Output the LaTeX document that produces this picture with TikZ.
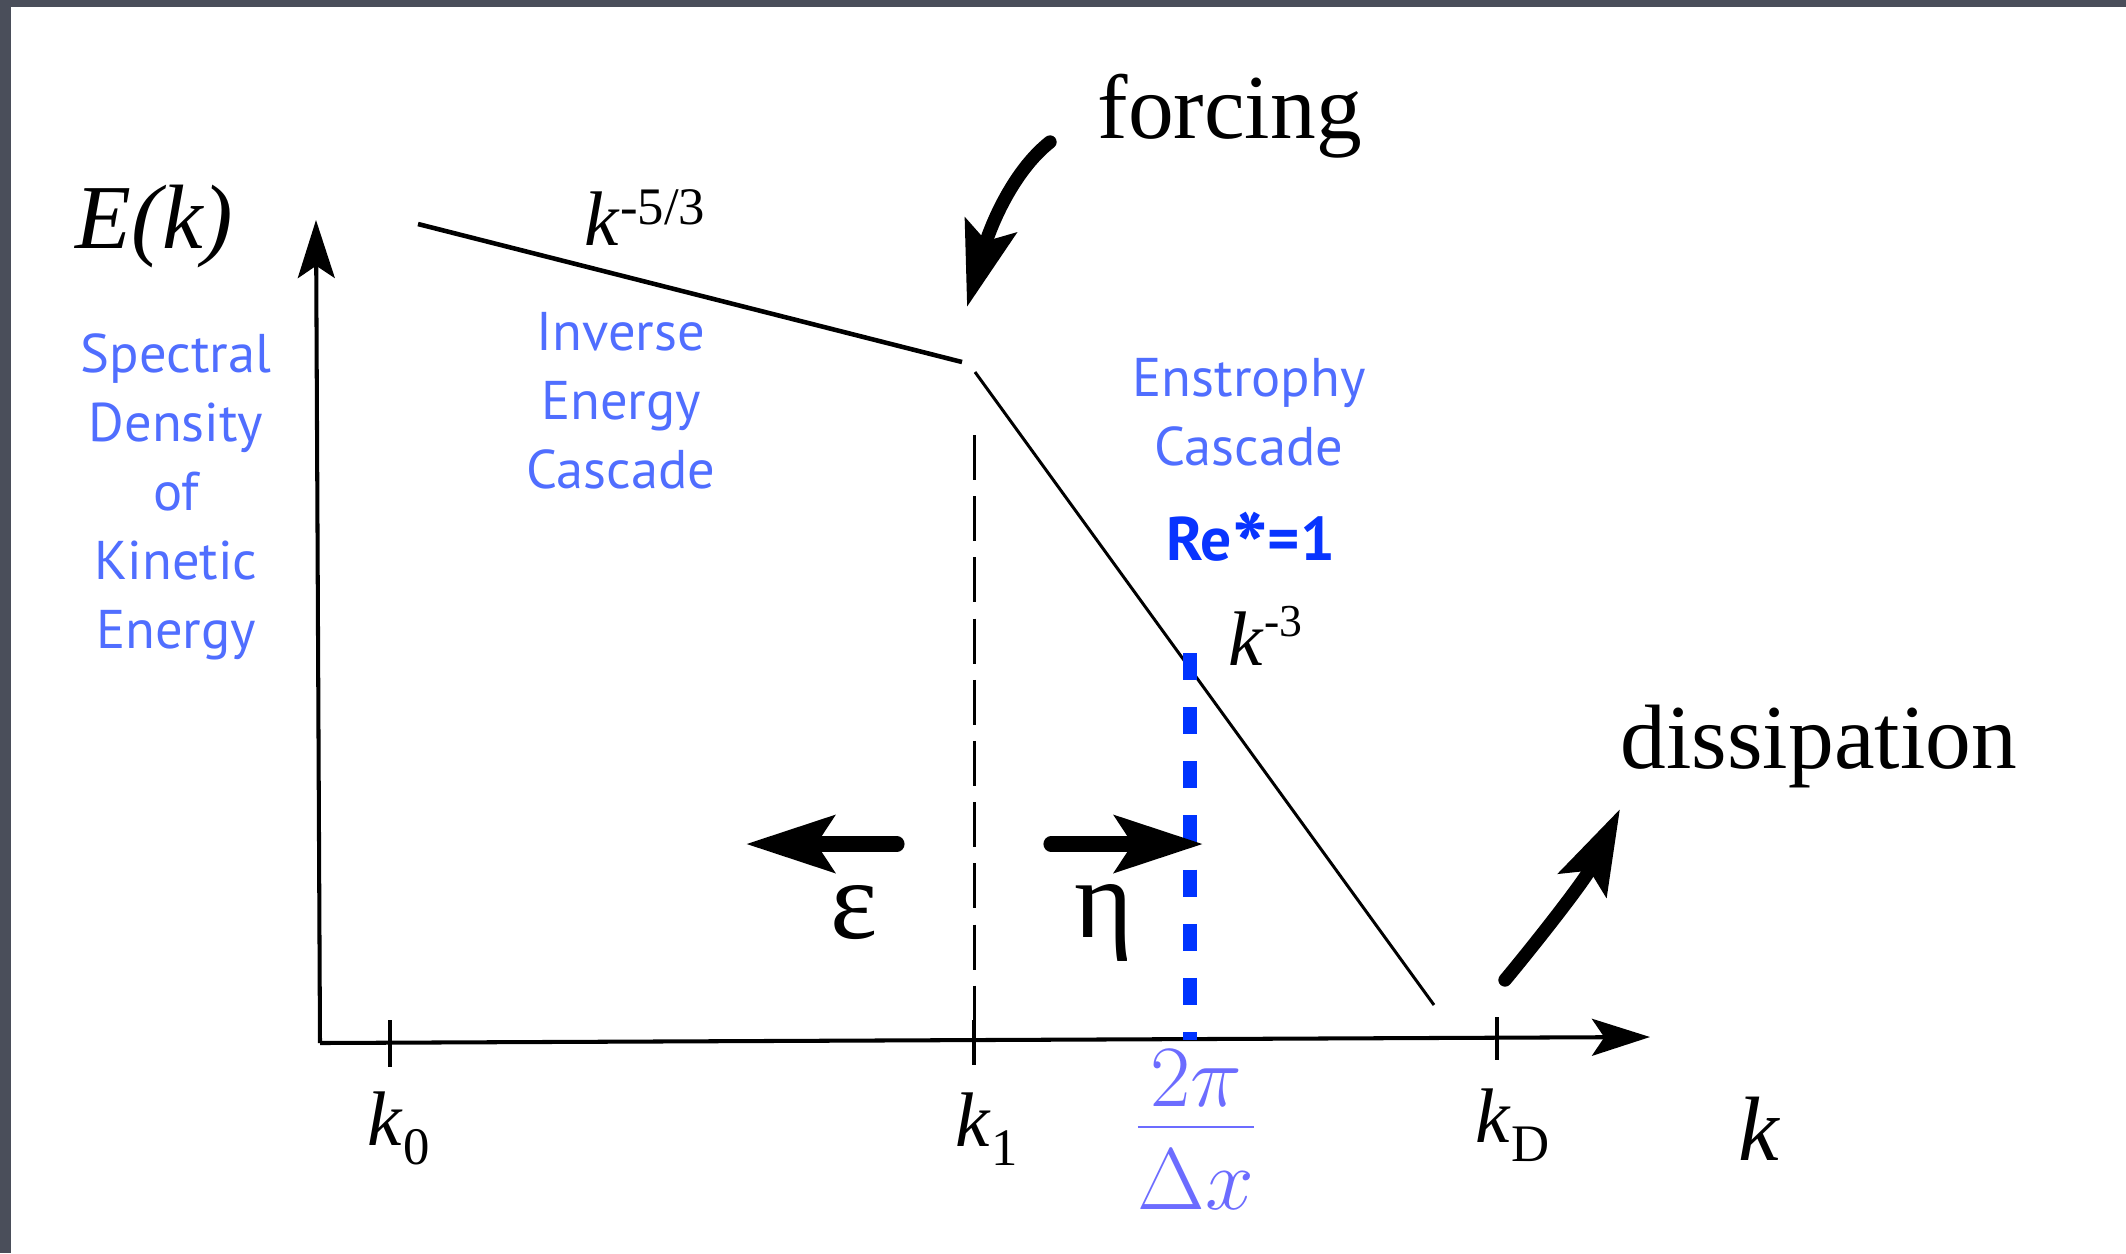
\documentclass[tikz,border=0pt]{standalone}
\usepackage[no-math]{fontspec}
\setmainfont{Liberation Serif}
\newfontfamily\chalk{PT Sans}
\usetikzlibrary{arrows.meta}
\definecolor{framegray}{RGB}{74,78,90}
\definecolor{labelblue}{RGB}{80,110,255}
\definecolor{reblue}{RGB}{8,52,255}
\definecolor{fracblue}{RGB}{108,108,255}
\definecolor{dashblue}{RGB}{0,52,255}
\tikzset{
  axisline/.style={line width=1.15pt, -{Stealth[length=16.5pt,width=10.5pt,inset=3.5pt]}},
  tickline/.style={line width=1.1pt},
  slopeA/.style={line width=1.3pt},
  slopeB/.style={line width=0.85pt},
  kdash/.style={line width=0.85pt, dash pattern=on 12.8pt off 4.6pt},
  bluedash/.style={line width=4pt, dashblue, dash pattern=on 7.7pt off 7.7pt},
  fatarrow/.style={line width=4.3pt, line cap=round, -{Stealth[length=25pt,width=16pt,inset=5pt]}},
  curvearrow/.style={line width=3.8pt, line cap=round, -{Stealth[length=24pt,width=15pt,inset=4.5pt]}},
  bigserif/.style={inner sep=0pt, anchor=base west, font=\fontsize{26}{30}\selectfont},
  ticklabel/.style={inner sep=0pt, anchor=base west, font=\fontsize{22}{26}\selectfont},
  greek/.style={inner sep=0pt, anchor=base, font=\fontsize{32}{36}\selectfont},
  bluelabel/.style={inner sep=0pt, align=center, text=labelblue, font=\chalk\fontsize{15.5}{19.6}\selectfont},
  relabel/.style={inner sep=0pt, anchor=base, text=reblue, font=\chalk\bfseries\fontsize{17.5}{20}\selectfont},
}
\newcommand{\supk}[3]{\textit{k}\raisebox{#1}{\fontsize{#2}{#2}\selectfont #3}}
\newcommand{\subk}[1]{\textit{k}\raisebox{-5.5pt}{\fontsize{15}{15}\selectfont #1}}
\begin{document}
\begin{tikzpicture}[x=0.01cm,y=-0.01cm]
\useasboundingbox (0,0) rectangle (2126,1253);
\fill[white] (0,0) rectangle (2126,1253);
\fill[framegray] (0,0) rectangle (2126,7);
\fill[framegray] (0,0) rectangle (11,1253);

% axes
\coordinate (O) at (320,1043);
\coordinate (ytip) at (316,220);
\coordinate (xtip) at (1650,1037);
\draw[axisline] (O) -- (ytip);
\draw[axisline] (O) -- (xtip);

% ticks
\coordinate (t0a) at (390,1020); \coordinate (t0b) at (390,1067);
\coordinate (t1a) at (974,1020); \coordinate (t1b) at (974,1065);
\coordinate (tDa) at (1497,1017); \coordinate (tDb) at (1497,1060);
\draw[tickline] (t0a) -- (t0b);
\draw[tickline] (t1a) -- (t1b);
\draw[tickline] (tDa) -- (tDb);

% spectrum lines
\coordinate (a) at (418,224);
\coordinate (b) at (962,362);
\coordinate (c) at (975,372);
\coordinate (d) at (1434,1005);
\draw[slopeA] (a) -- (b);
\draw[slopeB] (c) -- (d);

% k1 dashed line
\coordinate (k1top) at (974,435);
\coordinate (k1bot) at (974,1042);
\draw[kdash] (k1top) -- (k1bot);

% blue dashed line
\coordinate (btop) at (1190,653);
\coordinate (bbot) at (1190,1040);
\draw[bluedash] (btop) -- (bbot);

% epsilon / eta arrows
\coordinate (et) at (897,844); \coordinate (eh) at (746,844);
\coordinate (nt) at (1051,844); \coordinate (nh) at (1203,844);
\draw[fatarrow] (et) -- (eh);
\draw[fatarrow] (nt) -- (nh);

% forcing and dissipation arrows
\coordinate (fs) at (1050,142); \coordinate (fe) at (967,307);
\draw[curvearrow] (fs) .. controls (1012,172) and (990,228) .. (fe);
\coordinate (ds) at (1505,980); \coordinate (de) at (1620,809);
\draw[curvearrow] (ds) .. controls (1530,950) and (1584,882) .. (de);

% serif labels
\node[bigserif] (Ek) at (75,248) {\itshape E(k)};
\node[bigserif] (forcing) at (1097,138) {forcing};
\node[bigserif] (dissip) at (1620,768) {dissipation};
\node[bigserif] (kaxis) at (1738,1160) {\itshape k};
\node[ticklabel] (slope1) at (584,245) {\supk{5.7pt}{15}{-5/3}};
\node[ticklabel] (slope2) at (1228,665) {\supk{8pt}{13}{-3}};
\node[ticklabel] (k0) at (367,1145) {\subk{0}};
\node[ticklabel] (k1) at (955,1146) {\subk{1}};
\node[ticklabel] (kD) at (1475,1142) {\subk{D}};
\node[greek] (eps) at (854,938) {ε};
\node[greek] (eta) at (1104,937) {η};

% fraction
\node[inner sep=0pt, anchor=base, text=fracblue, font=\fontsize{24.88}{28}\selectfont] (frac) at (1196,1149) {$\displaystyle\frac{\smash{\raisebox{-4.6pt}{$2\pi$}}}{\Delta x}$};

% blue labels
\node[bluelabel] (spec) at (176,497) {Spectral\\Density\\of\\Kinetic\\Energy};
\node[bluelabel] (inv) at (621,401) {Inverse\\Energy\\Cascade};
\node[bluelabel] (ens) at (1249,412) {Enstrophy\\Cascade};
\node[relabel] (re) at (1251,560) {Re\raisebox{-6pt}{\fontsize{27}{27}\selectfont *}=1};
\end{tikzpicture}
\end{document}
